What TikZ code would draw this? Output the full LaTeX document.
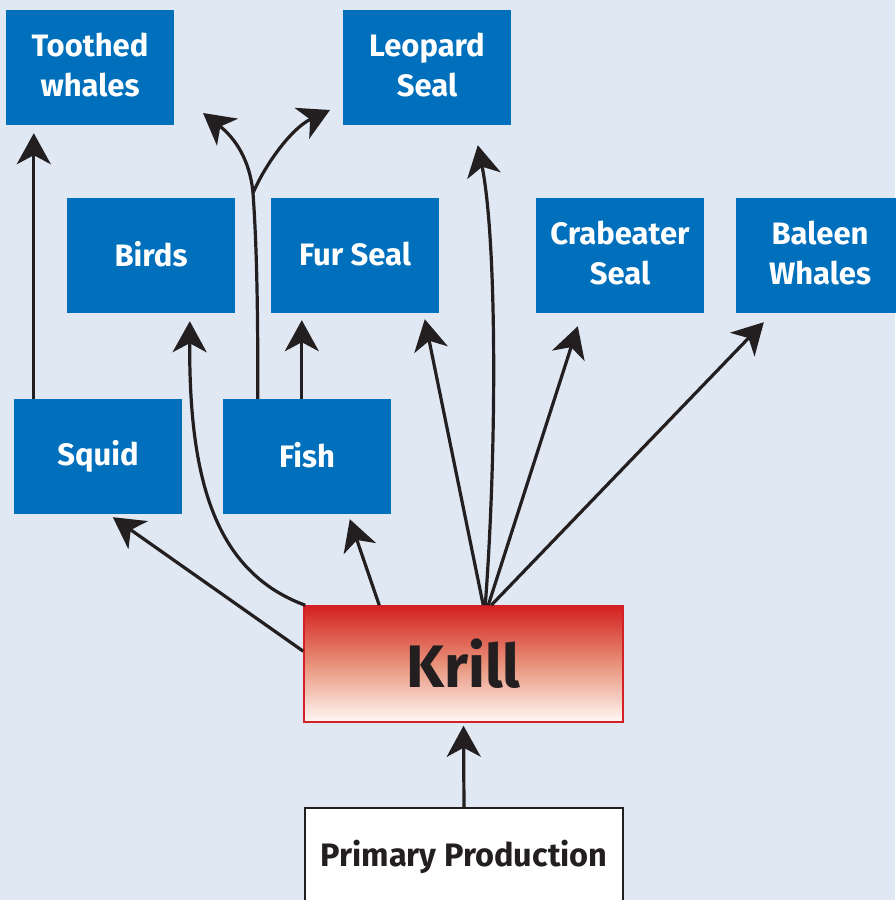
\documentclass[tikz,border=0pt]{standalone}
\usepackage{fontspec}
\setmainfont{Fira Sans}
\usetikzlibrary{arrows.meta,calc}
\definecolor{bg}{HTML}{E0E8F4}
\definecolor{boxblue}{HTML}{0070BC}
\definecolor{ink}{HTML}{231F20}
\definecolor{krillred}{HTML}{D42027}
\definecolor{krilltop}{HTML}{D42020}
\definecolor{krillmid}{HTML}{E8927A}
\definecolor{krillbot}{HTML}{FFF8F4}
\begin{document}
\begin{tikzpicture}[x=1pt,y=-1pt,
  animal/.style={fill=boxblue, minimum width=168pt, minimum height=115pt, inner sep=0pt,
    text=white, font=\fontsize{31}{40}\selectfont\bfseries, align=center},
  link/.style={draw=ink, line width=3.2pt, -{Stealth[length=31pt,width=34pt,inset=9pt]}},
  trunk/.style={draw=ink, line width=3.2pt}
]
\fill[bg] (0,0) rectangle (895,900);
\useasboundingbox (0,0) rectangle (895,900);

\node[animal] (toothed) at (90,67.5) {Toothed\\whales\rule[-6pt]{0pt}{6pt}};
\node[animal] (leopard) at (427,67.5) {Leopard\\Seal\rule[-6pt]{0pt}{6pt}};
\node[animal] (birds) at (151,255.5) {Birds\rule[-3pt]{0pt}{3pt}};
\node[animal] (furseal) at (355,255.5) {Fur Seal\rule[-3pt]{0pt}{3pt}};
\node[animal] (crabeater) at (620,255.5) {Crabeater\\Seal\rule[-6pt]{0pt}{6pt}};
\node[animal] (baleen) at (820,255.5) {Baleen\\Whales\rule[-6pt]{0pt}{6pt}};
\node[animal] (squid) at (98,456.5) {Squid};
\node[animal] (fish) at (307,456.5) {Fish\rule[-3pt]{0pt}{3pt}};

\node[draw=krillred, line width=1.5pt, top color=krilltop, bottom color=krillbot, middle color=krillmid,
  minimum width=319pt, minimum height=116pt, inner sep=0pt, text=ink,
  font=\fontsize{60}{70}\selectfont\bfseries] (krill) at (463.5,664) {Krill};

\node[draw=ink, line width=2pt, fill=white, minimum width=318pt, minimum height=98pt,
  inner sep=0pt, text=ink, font=\fontsize{32.5}{40}\selectfont\bfseries,
  anchor=north] (primary) at (464,807) {Primary Production};

% squid -> toothed whales
\draw[link] ($(squid.north west)+(20,0)$) -- ($(toothed.south west)+(28,8)$);

% fish -> fork
\coordinate (fork) at (253,193);
\coordinate (forkleft) at (203,113);
\coordinate (forkright) at (330,110);
\draw[trunk] ($(fish.north west)+(35,0)$) .. controls (258,290) and (256,235) .. (fork);
\draw[link] (fork) .. controls (250,160) and (235,138) .. (forkleft);
\draw[link] (fork) .. controls (266,163) and (292,128) .. (forkright);

% fish -> fur seal
\draw[link] ($(fish.north west)+(79,0)$) -- ($(furseal.south west)+(31,7)$);

% krill -> birds
\draw[link] ($(krill.north west)+(2,0)$) .. controls (215,572) and (189,480) .. ($(birds.south west)+(123,8)$);

% krill -> squid
\draw[link] ($(krill.north west)+(0,46)$) -- ($(squid.south west)+(99,3)$);

% krill -> fish
\draw[link] ($(krill.north west)+(76,0)$) -- ($(fish.south west)+(127,5)$);

% krill fan
\draw[link] ($(krill.north west)+(180,0)$) -- ($(furseal.south west)+(154,6)$);
\draw[link] ($(krill.north west)+(182,0)$) .. controls (497,450) and (497,240) .. ($(leopard.south west)+(135,20)$);
\draw[link] ($(krill.north west)+(185,0)$) -- ($(crabeater.south west)+(42,13)$);
\draw[link] ($(krill.north west)+(188,0)$) -- ($(baleen.south west)+(28,9)$);

% primary -> krill
\draw[link] (primary.north) -- ($(krill.south)+(0,3)$);
\end{tikzpicture}
\end{document}
